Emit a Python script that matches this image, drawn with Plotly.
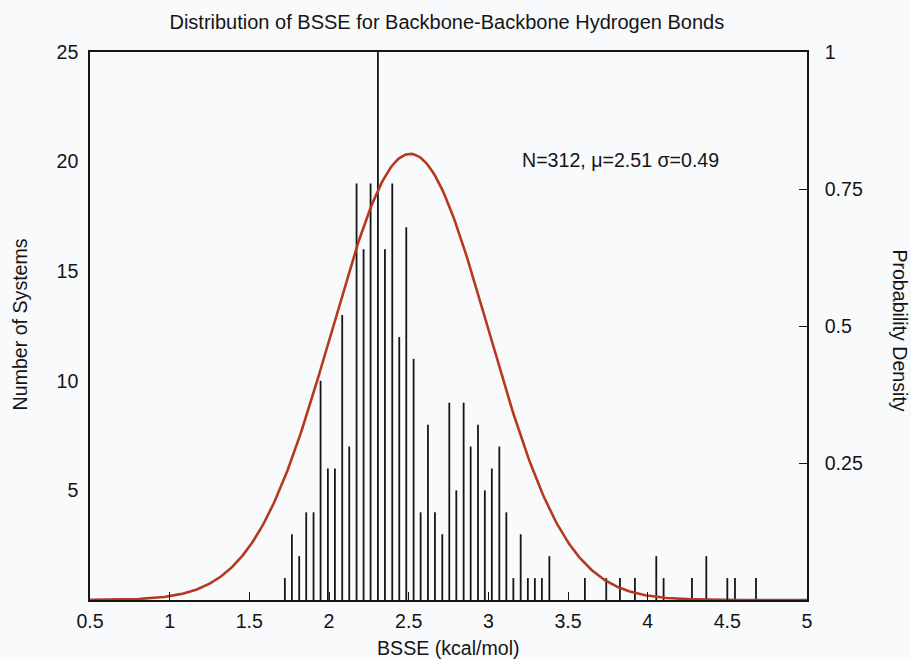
import numpy as np
import plotly.graph_objects as go

# ---- data ----
bsse_bins = [1.723, 1.767, 1.813, 1.857, 1.903, 1.947, 1.993, 2.037, 2.083, 2.127,
             2.173, 2.217, 2.261, 2.307, 2.351, 2.397, 2.441, 2.485, 2.531, 2.575,
             2.621, 2.665, 2.711, 2.755, 2.799, 2.845, 2.889, 2.935, 2.978, 3.022,
             3.069, 3.113, 3.157, 3.203, 3.248, 3.292, 3.336, 3.383, 3.606, 3.740,
             3.826, 3.920, 4.054, 4.100, 4.278, 4.368, 4.500, 4.548, 4.680]
counts = [1, 3, 2, 4, 4, 10, 6, 6, 13, 7,
          19, 16, 19, 26, 16, 19, 12, 17, 11, 4,
          8, 4, 3, 9, 5, 9, 7, 8, 5, 6,
          7, 4, 1, 3, 1, 1, 1, 2, 1, 1,
          1, 1, 2, 1, 1, 2, 1, 1, 1]
N_SYSTEMS = 312
MU = 2.51
SIGMA = 0.49

x_tickvals = [0.5, 1, 1.5, 2, 2.5, 3, 3.5, 4, 4.5, 5]
x_ticktext = ["0.5", "1", "1.5", "2", "2.5", "3", "3.5", "4", "4.5", "5"]
y_tickvals = [5, 10, 15, 20, 25]
y_ticktext = ["5", "10", "15", "20", "25"]
y2_tickvals = [0.25, 0.5, 0.75, 1]
y2_ticktext = ["0.25", "0.5", "0.75", "1"]

# fitted normal density (defined by the stated mu and sigma)
xc = np.linspace(0.5, 5, 400)
pdf = np.exp(-0.5 * ((xc - MU) / SIGMA) ** 2) / (SIGMA * np.sqrt(2 * np.pi))

# impulse segments built from the counts (gnuplot "impulses" style)
imp_x, imp_y = [], []
for b, c in zip(bsse_bins, counts):
    imp_x += [b, b, None]
    imp_y += [0, c, None]

FONT = "Liberation Sans, Arial, Helvetica, sans-serif"
INK = "#151515"
BG = "#f9fafc"
FS = 19.6

fig = go.Figure()
fig.add_trace(go.Scatter(x=imp_x, y=imp_y, mode="lines",
                         line=dict(color=INK, width=1.8),
                         showlegend=False, hoverinfo="skip"))
fig.add_trace(go.Scatter(x=xc, y=pdf, mode="lines", yaxis="y2",
                         line=dict(color="#b5391e", width=2.6),
                         showlegend=False, hoverinfo="skip"))

fig.update_layout(
    width=911, height=659,
    margin=dict(l=90, r=104, t=52, b=59),
    paper_bgcolor=BG, plot_bgcolor=BG,
    font=dict(family=FONT, size=FS, color=INK),
    title=dict(text="Distribution of BSSE for Backbone-Backbone Hydrogen Bonds",
               x=0.4905, xanchor="center", y=1 - 21.5 / 659, yanchor="middle",
               font=dict(family=FONT, size=20, color=INK)),
    xaxis=dict(range=[0.5, 5], tickmode="array", tickvals=x_tickvals, ticktext=x_ticktext,
               showgrid=False, zeroline=False, showline=True, linecolor=INK, linewidth=1.5,
               mirror=True, ticks="inside", ticklen=8, tickwidth=1.3, tickcolor=INK,
               ticklabelstandoff=3),
    yaxis=dict(range=[0, 25], tickmode="array", tickvals=y_tickvals, ticktext=y_ticktext,
               showgrid=False, zeroline=False, showline=True, linecolor=INK, linewidth=1.5,
               ticks="", ticklabelstandoff=6),
    yaxis2=dict(range=[0, 1], overlaying="y", side="right", tickmode="array",
                tickvals=y2_tickvals, ticktext=y2_ticktext,
                showgrid=False, zeroline=False, showline=True, linecolor=INK, linewidth=1.5,
                ticks="inside", ticklen=8, tickwidth=1.3, tickcolor=INK,
                ticklabelstandoff=12),
    annotations=[
        dict(text=f"N={N_SYSTEMS}, μ={MU} σ={SIGMA}", x=3.83, y=20.07, xref="x", yref="y",
             showarrow=False, xanchor="center", yanchor="middle",
             font=dict(family=FONT, size=FS, color=INK)),
        dict(text="BSSE (kcal/mol)", x=0.5, y=(600 - 648) / 548, xref="paper", yref="paper",
             showarrow=False, xanchor="center", yanchor="middle",
             font=dict(family=FONT, size=FS, color=INK)),
        dict(text="Number of Systems", x=(19.5 - 90) / 717, y=0.502, xref="paper", yref="paper",
             showarrow=False, xanchor="center", yanchor="middle", textangle=-90,
             font=dict(family=FONT, size=FS, color=INK)),
        dict(text="Probability Density", x=(900 - 90) / 717, y=0.492, xref="paper", yref="paper",
             showarrow=False, xanchor="center", yanchor="middle", textangle=90,
             font=dict(family=FONT, size=FS, color=INK)),
    ],
)

fig.write_html("out.html", config={"displayModeBar": False},
               post_script="document.body.style.margin='0';document.body.style.overflow='hidden';")
